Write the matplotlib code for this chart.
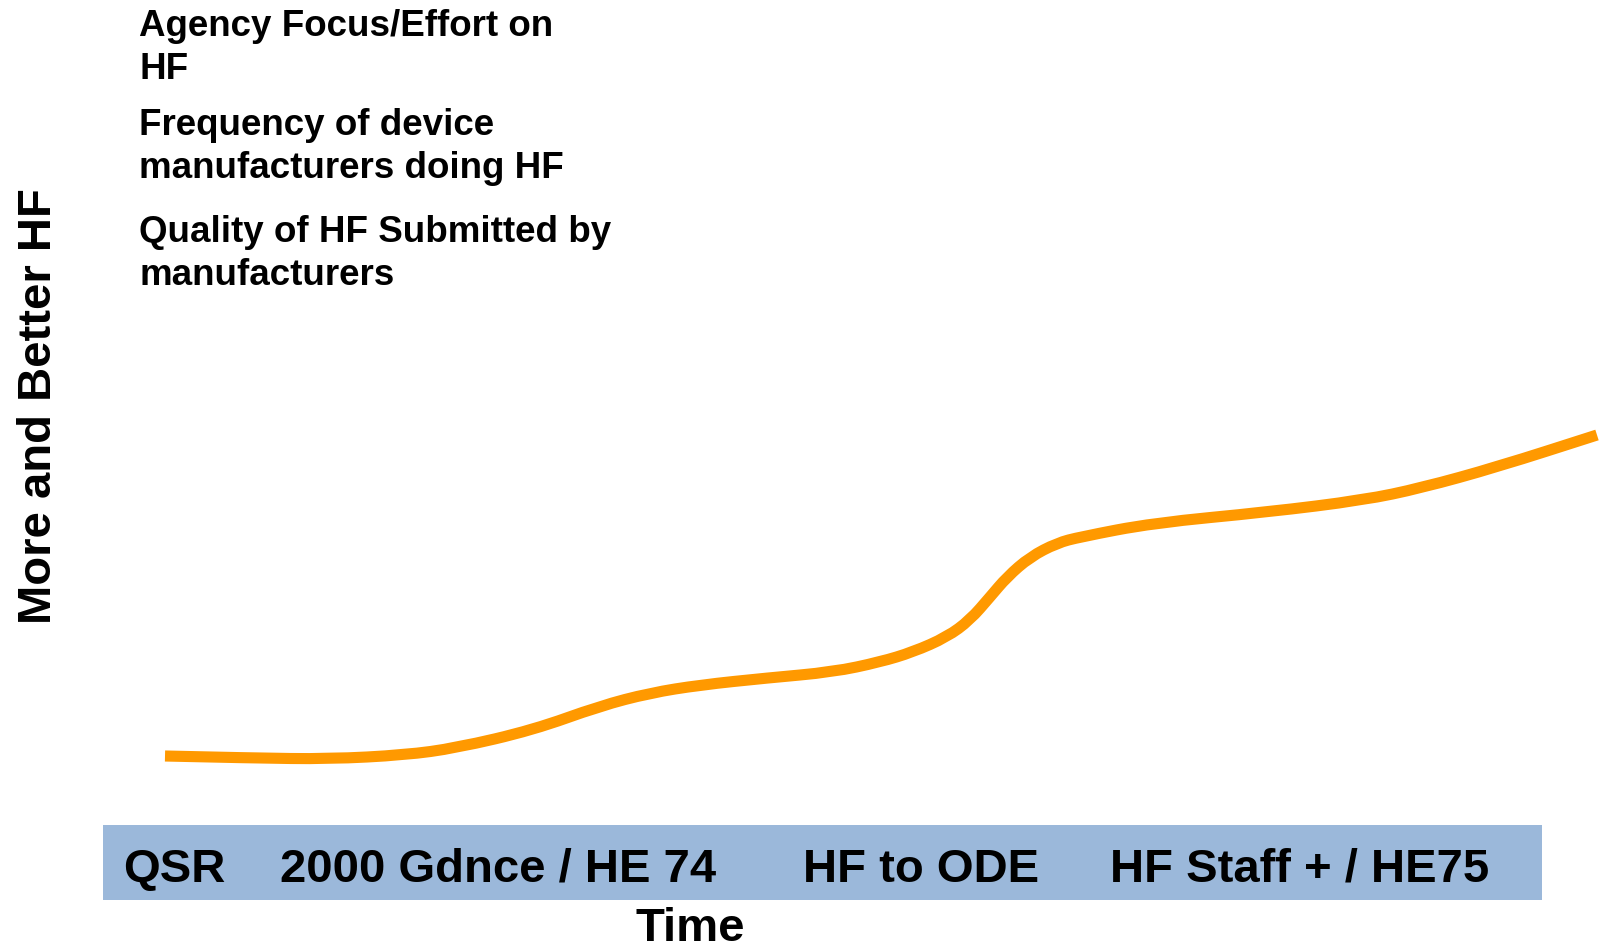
import matplotlib
matplotlib.use("Agg")
import matplotlib.pyplot as plt
from matplotlib.patches import Rectangle, PathPatch
from matplotlib.path import Path

plt.rcParams['font.family'] = ['Liberation Sans', 'DejaVu Sans']

# Curve (x = time, y = level in picture units, downward)
time = [165, 252, 329, 405, 456, 533, 600, 650, 700, 767, 833, 880, 913, 947,
        970, 990, 1007, 1030, 1057, 1080, 1153, 1268, 1364, 1421, 1497, 1597]
level = [756, 758, 759, 755, 748, 730, 706, 693, 685, 678, 672, 662, 652, 637,
         620, 597, 577, 557, 543, 537, 523, 512, 500, 488, 467, 435]

milestones = ["QSR", "2000 Gdnce / HE 74", "HF to ODE", "HF Staff + / HE75"]
milestone_x = [123, 280, 803, 1110]

legend_lines = [["Agency Focus/Effort on", "HF"],
                ["Frequency of device", "manufacturers doing HF"],
                ["Quality of HF Submitted by", "manufacturers"]]
legend_baselines = [[36, 79], [135, 178], [242, 285]]

W, H = 1601, 948
fig = plt.figure(figsize=(W / 100, H / 100), dpi=100)
ax = fig.add_axes([0, 0, 1, 1])
ax.set_xlim(0, W)
ax.set_ylim(H, 0)
ax.axis('off')

# smooth rendering through the read points (quadratic Bezier via midpoints)
verts = [(time[0], level[0])]
codes = [Path.MOVETO]
for i in range(1, len(time) - 1):
    verts.append((time[i], level[i]))
    verts.append(((time[i] + time[i + 1]) / 2, (level[i] + level[i + 1]) / 2))
    codes += [Path.CURVE3, Path.CURVE3]
verts.append((time[-1], level[-1]))
codes.append(Path.LINETO)
ax.add_patch(PathPatch(Path(verts, codes), facecolor='none', edgecolor='#FF9900',
                       lw=8, capstyle='butt', joinstyle='round'))

ax.add_patch(Rectangle((103, 825), 1439, 75, facecolor='#9BB8DA', edgecolor='none'))
for lab, x in zip(milestones, milestone_x):
    ax.text(x, 882, lab, fontsize=34, fontweight='bold', ha='left', va='baseline')

ax.text(690, 941, "Time", fontsize=34, fontweight='bold', ha='center', va='baseline')
ax.text(39, 406, "More and Better HF", fontsize=34, fontweight='bold',
        rotation=90, ha='center', va='center')

for lines, bls in zip(legend_lines, legend_baselines):
    for t, b in zip(lines, bls):
        ax.text(139, b, t, fontsize=26.5, fontweight='bold', ha='left', va='baseline')

fig.savefig("out.png", dpi=100)
